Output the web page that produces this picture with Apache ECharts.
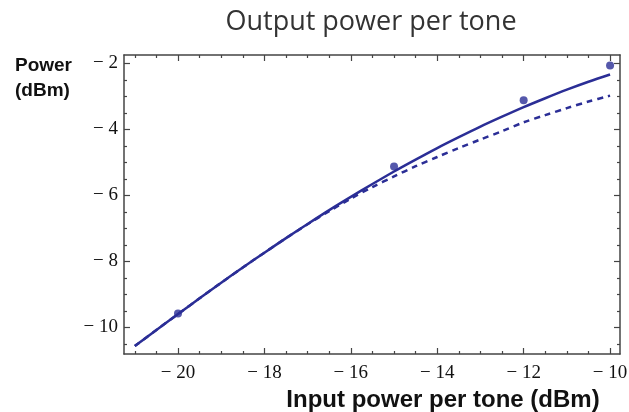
<!DOCTYPE html>
<html>
<head>
<meta charset="utf-8">
<script src="https://cdn.jsdelivr.net/npm/echarts@6/dist/echarts.min.js"></script>
<style>
  html, body { margin: 0; padding: 0; background: #fff; }
  #chart { width: 629px; height: 412px; }
</style>
</head>
<body>
<div id="chart"></div>
<script>
// input power per tone (dBm) for the model curves
const inputDbm = [-21, -20.5, -20, -19.5, -19, -18.5, -18, -17.5, -17, -16.5, -16, -15.5,
  -15, -14.5, -14, -13.5, -13, -12.5, -12, -11.5, -11, -10.5, -10]
// solid model curve
const outSolid = [-10.57, -10.08, -9.6, -9.12, -8.65, -8.19, -7.74, -7.3, -6.87, -6.45, -6.05, -5.66,
  -5.28, -4.92, -4.57, -4.24, -3.92, -3.62, -3.33, -3.06, -2.8, -2.56, -2.34]
// dashed model curve
const outDashed = [-10.57, -10.08, -9.6, -9.12, -8.65, -8.19, -7.74, -7.3, -6.88, -6.48, -6.1, -5.75,
  -5.43, -5.12, -4.84, -4.57, -4.31, -4.06, -3.79, -3.57, -3.36, -3.16, -2.98]
// measured points
const measIn = [-20, -15, -12, -10]
const measOut = [-9.58, -5.13, -3.12, -2.07]

const xTicks = [-20, -18, -16, -14, -12, -10]
const xMinor = [-21, -20.5, -19.5, -19, -18.5, -17.5, -17, -16.5, -15.5, -15, -14.5,
  -13.5, -13, -12.5, -11.5, -11, -10.5]
const yTicks = [-10, -8, -6, -4, -2]
const yMinor = [-10.5, -9.5, -9, -8.5, -7.5, -7, -6.5, -5.5, -5, -4.5, -3.5, -3, -2.5]

const X_MIN = -21.25
const X_MAX = -9.77
const Y_MIN = -10.81
const Y_MAX = -1.75

const blue = '#2b2e96'
const frame = '#444'

const fmt = v => (v < 0 ? '\u2212 ' + Math.abs(v) : String(v))

const labelStyle = {
  fontFamily: 'Liberation Serif',
  fontSize: 19,
  color: '#111',
}

const makeAxis = (pos, min, max, ticks, opts) => ({
  type: 'value',
  position: pos,
  min,
  max,
  axisLine: { show: opts.line, onZero: false, lineStyle: { color: frame, width: 1.5 } },
  axisTick: {
    show: true,
    inside: true,
    length: opts.len,
    customValues: ticks,
    lineStyle: { color: frame, width: 1.2 },
  },
  axisLabel: opts.label
    ? { show: true, customValues: ticks, formatter: fmt, margin: opts.margin, ...labelStyle }
    : { show: false },
  splitLine: { show: false },
  ...(opts.extra || {}),
})

const chart = echarts.init(document.getElementById('chart'))

chart.setOption({
  animation: false,
  title: [
    {
      text: 'Output power per tone',
      left: 366,
      top: 4,
      textAlign: 'center',
      textStyle: { fontFamily: 'Open Sans', fontWeight: 'normal', fontSize: 27, color: '#333' },
    },
    {
      text: 'Power\n(dBm)',
      left: 10,
      top: 48,
      textStyle: {
        fontFamily: 'Liberation Sans',
        fontWeight: 'bold',
        fontSize: 19,
        lineHeight: 25,
        color: '#111',
      },
    },
  ],
  grid: { left: 124, right: 9, top: 55, bottom: 58, outerBoundsMode: 'none', containLabel: false },
  xAxis: [
    makeAxis('bottom', X_MIN, X_MAX, xTicks, {
      line: true, len: 6, label: true, margin: 10,
      extra: {
        name: 'Input power per tone (dBm)',
        nameLocation: 'middle',
        nameGap: 33,
        nameTextStyle: {
          fontFamily: 'Liberation Sans',
          fontWeight: 'bold',
          fontSize: 24,
          color: '#111',
          padding: [0, 0, 0, 142],
        },
      },
    }),
    makeAxis('bottom', X_MIN, X_MAX, xMinor, { line: false, len: 3, label: false }),
    makeAxis('top', X_MIN, X_MAX, xTicks, { line: true, len: 6, label: false }),
    makeAxis('top', X_MIN, X_MAX, xMinor, { line: false, len: 3, label: false }),
  ],
  yAxis: [
    makeAxis('left', Y_MIN, Y_MAX, yTicks, { line: true, len: 6, label: true, margin: 6 }),
    makeAxis('left', Y_MIN, Y_MAX, yMinor, { line: false, len: 3, label: false }),
    makeAxis('right', Y_MIN, Y_MAX, yTicks, { line: true, len: 6, label: false }),
    makeAxis('right', Y_MIN, Y_MAX, yMinor, { line: false, len: 3, label: false }),
  ],
  series: [
    {
      name: 'model',
      type: 'line',
      data: inputDbm.map((x, i) => [x, outSolid[i]]),
      smooth: 0.3,
      showSymbol: false,
      lineStyle: { color: blue, width: 2.5 },
    },
    {
      name: 'model (dashed)',
      type: 'line',
      data: inputDbm.map((x, i) => [x, outDashed[i]]),
      smooth: 0.3,
      showSymbol: false,
      lineStyle: { color: blue, width: 2.5, type: [6, 5] },
    },
    {
      name: 'measured',
      type: 'scatter',
      data: measIn.map((x, i) => [x, measOut[i]]),
      symbolSize: 8,
      itemStyle: { color: blue },
    },
  ],
})
</script>
</body>
</html>
